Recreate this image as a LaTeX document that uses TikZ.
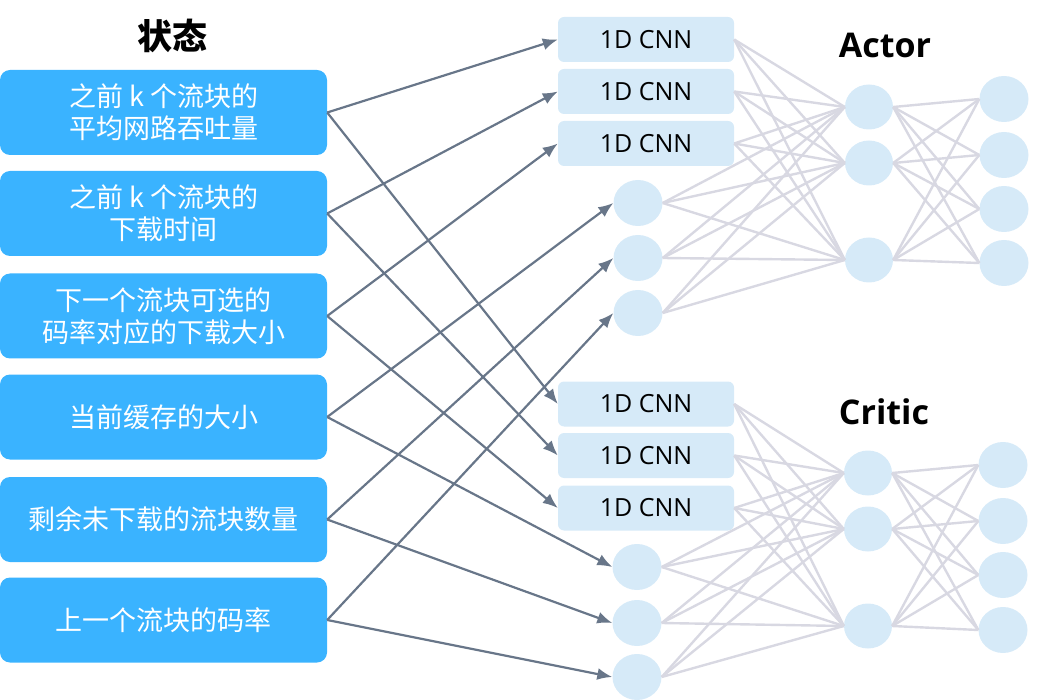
\documentclass[tikz,border=0pt]{standalone}
\usepackage{fontspec}
\setmainfont{Open Sans}
\newfontfamily\cjk{Noto Sans CJK SC}
\usetikzlibrary{shapes.geometric,arrows.meta}
\definecolor{stateblue}{RGB}{58,179,255}
\definecolor{nnblue}{RGB}{214,234,248}
\definecolor{nngrey}{RGB}{216,216,226}
\definecolor{arrowgrey}{RGB}{104,118,137}
\tikzset{
  statebox/.style={draw=none,fill=stateblue,rounded corners=10pt,minimum width=327pt,minimum height=85pt,
    text=white,align=center,font=\cjk\fontsize{27}{32}\selectfont,inner sep=0pt},
  cnnbox/.style={draw=none,fill=nnblue,rounded corners=6pt,minimum width=176pt,minimum height=45pt,
    inner sep=0pt,font=\fontsize{25}{30}\selectfont},
  neuron/.style={ellipse,draw=none,fill=nnblue,minimum width=49pt,minimum height=46pt,inner sep=0pt},
  hneuron/.style={neuron,minimum width=48pt,minimum height=45pt},
  nnline/.style={draw=nngrey,line width=2.4pt},
  feed/.style={draw=arrowgrey,line width=2.2pt,-{Latex[length=15pt,width=12pt]}},
  grouptitle/.style={font=\bfseries\fontsize{34}{40}\selectfont}
}
\begin{document}
\begin{tikzpicture}[x=1pt,y=-1pt]
\useasboundingbox (0,0) rectangle (1057,700);
% title
\node[font=\cjk\bfseries\fontsize{35}{40}\selectfont] (title) at (172,36) {状态};
% state boxes
\node[statebox] (s1) at (163.5,112.5) {之前 k 个流块的\\平均网路吞吐量};
\node[statebox] (s2) at (163.5,213.5) {之前 k 个流块的\\下载时间};
\node[statebox] (s3) at (163.5,316) {下一个流块可选的\\码率对应的下载大小};
\node[statebox] (s4) at (163.5,417) {当前缓存的大小};
\node[statebox] (s5) at (163.5,519.5) {剩余未下载的流块数量};
\node[statebox] (s6) at (163.5,620) {上一个流块的码率};
% actor
\node[grouptitle] (actor) at (885,45) {Actor};
\node[cnnbox] (ac1) at (646,39.5) {1D CNN};
\node[cnnbox] (ac2) at (646,91.5) {1D CNN};
\node[cnnbox] (ac3) at (646,143.5) {1D CNN};
\node[neuron] (ai1) at (638,203) {};
\node[neuron] (ai2) at (638,258) {};
\node[neuron] (ai3) at (638,313) {};
\node[hneuron] (ah1) at (869,107) {};
\node[hneuron] (ah2) at (869,163) {};
\node[hneuron] (ah3) at (869,260) {};
\node[neuron] (ao1) at (1004,99) {};
\node[neuron] (ao2) at (1004,155) {};
\node[neuron] (ao3) at (1004,209) {};
\node[neuron] (ao4) at (1004,263) {};
% critic
\node[grouptitle] (critic) at (884,412) {Critic};
\node[cnnbox] (cc1) at (646,404) {1D CNN};
\node[cnnbox] (cc2) at (646,455.5) {1D CNN};
\node[cnnbox] (cc3) at (646,508) {1D CNN};
\node[neuron] (ci1) at (637,567) {};
\node[neuron] (ci2) at (637,623) {};
\node[neuron] (ci3) at (637,677) {};
\node[hneuron] (ch1) at (868,473) {};
\node[hneuron] (ch2) at (868,529) {};
\node[hneuron] (ch3) at (868,626) {};
\node[neuron] (co1) at (1003,465) {};
\node[neuron] (co2) at (1003,521) {};
\node[neuron] (co3) at (1003,575) {};
\node[neuron] (co4) at (1003,630) {};
% network connections
\foreach \g in {a,c} {
  \foreach \i in {1,2,3} {
    \foreach \h in {1,2,3} {
      \draw[nnline] (\g c\i.east) -- (\g h\h.west);
      \draw[nnline] (\g i\i.east) -- (\g h\h.west);
    }
  }
  \foreach \h in {1,2,3} {
    \foreach \o in {1,2,3,4} {
      \draw[nnline] (\g h\h.east) -- (\g o\o.west);
    }
  }
}
% feeds
\draw[feed] (s1.east) -- (ac1.west);
\draw[feed] (s2.east) -- (ac2.west);
\draw[feed] (s3.east) -- (ac3.west);
\draw[feed] (s4.east) -- (ai1.west);
\draw[feed] (s5.east) -- (ai2.west);
\draw[feed] (s6.east) -- (ai3.west);
\draw[feed] (s1.east) -- (cc1.west);
\draw[feed] (s2.east) -- (cc2.west);
\draw[feed] (s3.east) -- (cc3.west);
\draw[feed] (s4.east) -- (ci1.west);
\draw[feed] (s5.east) -- (ci2.west);
\draw[feed] (s6.east) -- (ci3.west);
\end{tikzpicture}
\end{document}
